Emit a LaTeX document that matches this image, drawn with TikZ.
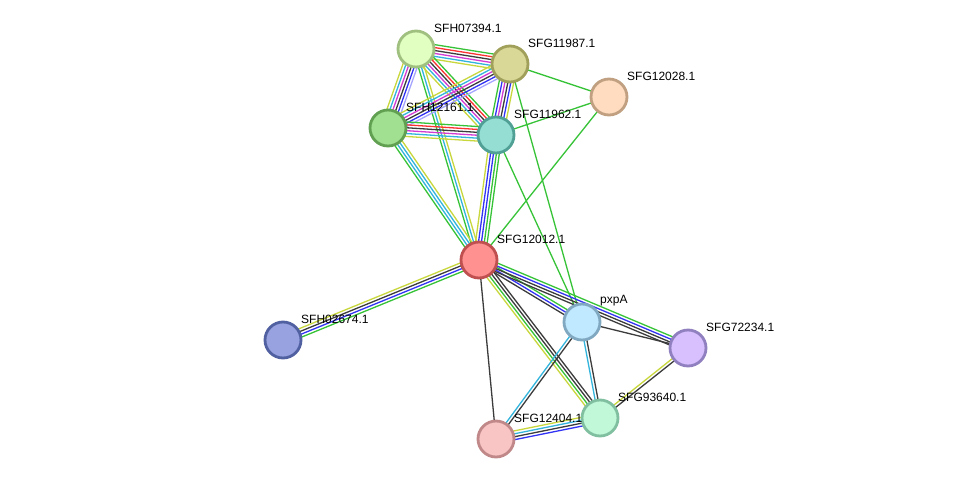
\documentclass[tikz,border=0pt]{standalone}
\usepackage{fontspec}
\setmainfont{Liberation Sans}
\usetikzlibrary{calc}
\definecolor{tmY}{RGB}{200,215,60}
\definecolor{nbG}{RGB}{55,195,55}
\definecolor{coB}{RGB}{50,50,245}
\definecolor{cxK}{RGB}{60,60,60}
\definecolor{exM}{RGB}{210,60,210}
\definecolor{dbC}{RGB}{50,180,220}
\definecolor{fuR}{RGB}{250,50,50}
\definecolor{hoL}{RGB}{165,165,255}
\newcommand\medge[4]{%
  \foreach \cc [count=\ii] in {#4}{%
    \pgfmathsetmacro\oo{(\ii-1-(#1-1)/2)*2.9}%
    \draw[edgeline,\cc] ($(#2)!\oo pt!90:(#3)$) -- ($(#3)!\oo pt!-90:(#2)$);}}
\tikzset{
  edgeline/.style={line width=1.3pt},
  prot/.style={circle,minimum size=36pt,inner sep=0pt,line width=2.8pt},
  lbl/.style={anchor=west,font=\fontsize{12pt}{12pt}\selectfont,inner sep=0pt,text=black}
}
\begin{document}
\begin{tikzpicture}[x=1pt,y=-1pt]
\useasboundingbox[fill=white] (0,0) rectangle (975,485);
% node coordinates
\coordinate (a) at (416,49);
\coordinate (b) at (510,64);
\coordinate (c) at (609,97);
\coordinate (d) at (388,128);
\coordinate (e) at (496,135);
\coordinate (f) at (479,260);
\coordinate (g) at (283,340);
\coordinate (h) at (582,322);
\coordinate (i) at (688,348);
\coordinate (j) at (600,418);
\coordinate (k) at (496,439);
% edges
\medge{6}{a}{b}{tmY,dbC,exM,cxK,fuR,nbG}
\medge{6}{a}{d}{tmY,dbC,exM,cxK,coB,hoL}
\medge{6}{a}{e}{tmY,dbC,exM,cxK,fuR,nbG}
\medge{3}{a}{f}{nbG,dbC,tmY}
\medge{6}{b}{d}{tmY,dbC,exM,cxK,coB,hoL}
\medge{6}{b}{e}{nbG,coB,exM,cxK,coB,tmY}
\medge{1}{b}{c}{nbG}
\medge{1}{b}{h}{nbG}
\medge{6}{d}{e}{tmY,dbC,exM,cxK,fuR,nbG}
\medge{4}{d}{f}{nbG,dbC,dbC,tmY}
\medge{5}{e}{f}{tmY,coB,coB,nbG,nbG}
\medge{1}{e}{c}{nbG}
\medge{1}{e}{h}{nbG}
\medge{1}{c}{f}{nbG}
\medge{4}{f}{g}{tmY,cxK,coB,nbG}
\medge{3}{f}{h}{cxK,coB,nbG}
\medge{4}{f}{i}{cxK,cxK,coB,nbG}
\medge{4}{f}{j}{tmY,nbG,cxK,cxK}
\medge{1}{f}{k}{cxK}
\medge{1}{h}{i}{cxK}
\medge{2}{h}{j}{dbC,cxK}
\medge{2}{h}{k}{dbC,cxK}
\medge{2}{i}{j}{tmY,cxK}
\medge{4}{k}{j}{coB,cxK,dbC,tmY}
% nodes
\node[prot,fill={rgb,255:red,224;green,255;blue,192},draw={rgb,255:red,160;green,192;blue,128}] (SFH07394) at (a) {};
\node[prot,fill={rgb,255:red,218;green,216;blue,150},draw={rgb,255:red,160;green,160;blue,90}] (SFG11987) at (b) {};
\node[prot,fill={rgb,255:red,255;green,220;blue,192},draw={rgb,255:red,192;green,160;blue,128}] (SFG12028) at (c) {};
\node[prot,fill={rgb,255:red,160;green,224;blue,144},draw={rgb,255:red,96;green,160;blue,80}] (SFH12161) at (d) {};
\node[prot,fill={rgb,255:red,148;green,222;blue,212},draw={rgb,255:red,80;green,160;blue,150}] (SFG11962) at (e) {};
\node[prot,fill={rgb,255:red,255;green,145;blue,145},draw={rgb,255:red,192;green,80;blue,80}] (SFG12012) at (f) {};
\node[prot,fill={rgb,255:red,152;green,162;blue,224},draw={rgb,255:red,80;green,96;blue,160}] (SFH02674) at (g) {};
\node[prot,fill={rgb,255:red,192;green,232;blue,255},draw={rgb,255:red,128;green,168;blue,192}] (pxpA) at (h) {};
\node[prot,fill={rgb,255:red,216;green,192;blue,255},draw={rgb,255:red,144;green,128;blue,192}] (SFG72234) at (i) {};
\node[prot,fill={rgb,255:red,192;green,248;blue,216},draw={rgb,255:red,128;green,192;blue,160}] (SFG93640) at (j) {};
\node[prot,fill={rgb,255:red,248;green,196;blue,196},draw={rgb,255:red,192;green,136;blue,136}] (SFG12404) at (k) {};
% labels
\node[lbl] (lSFH07394) at ($(a)+(18,-21)$) {SFH07394.1};
\node[lbl] (lSFG11987) at ($(b)+(18,-21)$) {SFG11987.1};
\node[lbl] (lSFG12028) at ($(c)+(18,-21)$) {SFG12028.1};
\node[lbl] (lSFH12161) at ($(d)+(18,-21)$) {SFH12161.1};
\node[lbl] (lSFG11962) at ($(e)+(18,-21)$) {SFG11962.1};
\node[lbl] (lSFG12012) at ($(f)+(18,-21)$) {SFG12012.1};
\node[lbl] (lSFH02674) at ($(g)+(18,-21)$) {SFH02674.1};
\node[lbl] (lpxpA) at ($(h)+(18,-21)$) {pxpA};
\node[lbl] (lSFG72234) at ($(i)+(18,-21)$) {SFG72234.1};
\node[lbl] (lSFG93640) at ($(j)+(18,-21)$) {SFG93640.1};
\node[lbl] (lSFG12404) at ($(k)+(18,-21)$) {SFG12404.1};
\end{tikzpicture}
\end{document}
